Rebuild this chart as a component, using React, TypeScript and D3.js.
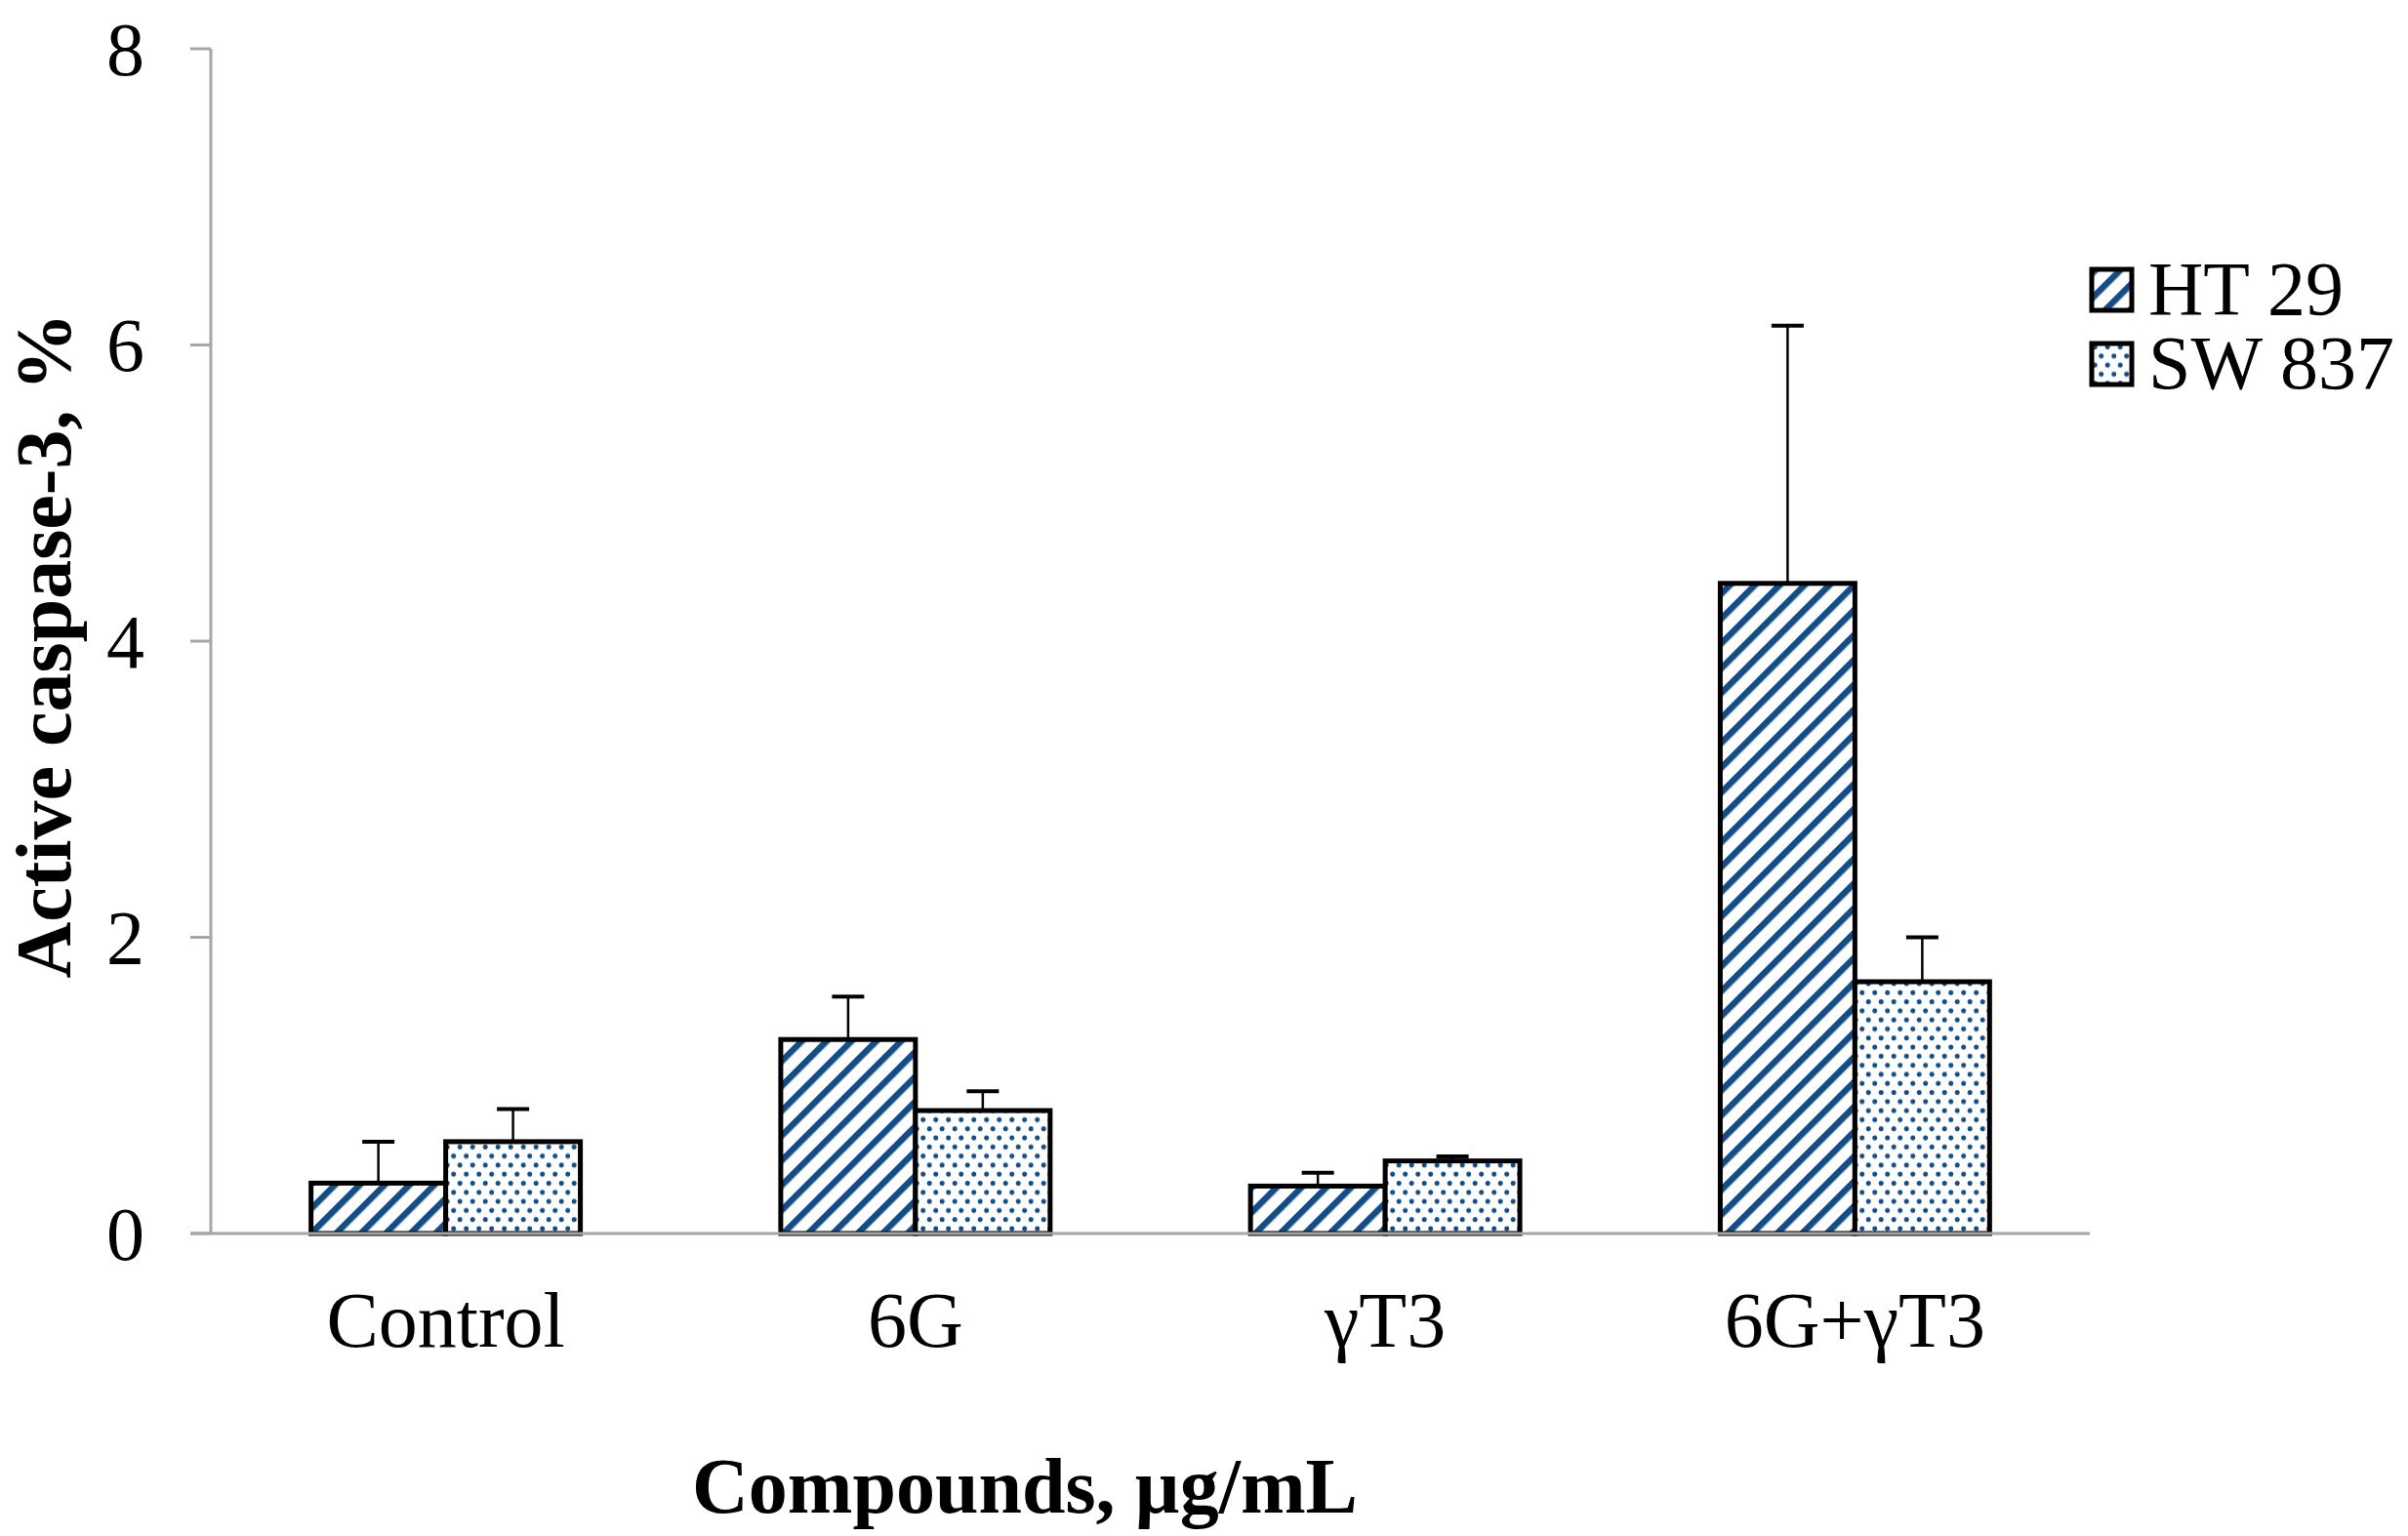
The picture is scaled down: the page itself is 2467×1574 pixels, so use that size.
import React from "react";
import * as d3 from "d3";

const categories = ["Control", "6G", "γT3", "6G+γT3"];
const seriesNames = ["HT 29", "SW 837"];
const ht29Values = [0.34, 1.31, 0.32, 4.39];
const ht29Errors = [0.28, 0.29, 0.09, 1.74];
const sw837Values = [0.62, 0.83, 0.49, 1.7];
const sw837Errors = [0.22, 0.13, 0.03, 0.3];
const yTicks = [0, 2, 4, 6, 8];

const W = 2467;
const H = 1574;
const FONT = "'Liberation Serif', 'Times New Roman', serif";
const BLUE = "#124d88";
const AXIS = "#a6a6a6";

export default function App() {
  const x = d3.scaleBand<string>().domain(categories).range([216, 2141]);
  const inner = d3
    .scaleBand<string>()
    .domain(seriesNames)
    .range([0, x.bandwidth()])
    .paddingInner(0)
    .paddingOuter(0.744);
  const y = d3.scaleLinear().domain([0, 8]).range([1264, 50]);

  const series = [
    { name: seriesNames[0], values: ht29Values, errors: ht29Errors, fill: "url(#hatch)" },
    { name: seriesNames[1], values: sw837Values, errors: sw837Errors, fill: "url(#dots)" },
  ];

  const capW = 33;
  const P = 18;

  return (
    <svg
      width={W}
      height={H}
      viewBox={`0 0 ${W} ${H}`}
      style={{ position: "absolute", left: 0, top: 0, background: "#fff" }}
    >
      <defs>
        <pattern
          id="hatch"
          patternUnits="userSpaceOnUse"
          width={P}
          height={P}
          patternTransform="rotate(45)"
        >
          <rect x={0} y={0} width={P} height={P} fill="#fff" />
          <rect x={0} y={0} width={6.5} height={P} fill={BLUE} />
        </pattern>
        <pattern id="dots" patternUnits="userSpaceOnUse" width={13} height={18.6}>
          <rect x={0} y={0} width={13} height={18.6} fill="#fff" />
          <circle cx={3.2} cy={3.5} r={2.5} fill={BLUE} />
          <circle cx={9.7} cy={12.8} r={2.5} fill={BLUE} />
        </pattern>
      </defs>
      <rect x={0} y={0} width={W} height={H} fill="#fff" />

      {/* y axis */}
      <line x1={216} x2={216} y1={y(8)} y2={y(0)} stroke={AXIS} strokeWidth={3} />
      {yTicks.map((t) => (
        <g key={t}>
          <line x1={195} x2={216} y1={y(t)} y2={y(t)} stroke={AXIS} strokeWidth={3} />
          <text
            x={148}
            y={y(t)}
            textAnchor="end"
            dominantBaseline="central"
            fontFamily={FONT}
            fontSize={78}
            fill="#000"
          >
            {t}
          </text>
        </g>
      ))}

      {/* bars */}
      {series.map((s) =>
        categories.map((c, i) => {
          const bx = (x(c) as number) + (inner(s.name) as number);
          const bw = inner.bandwidth();
          const top = y(s.values[i]);
          const errTop = y(s.values[i] + s.errors[i]);
          const cx = bx + bw / 2;
          return (
            <g key={s.name + c}>
              <line x1={cx} x2={cx} y1={top} y2={errTop} stroke="#000" strokeWidth={2.5} />
              <line
                x1={cx - capW / 2}
                x2={cx + capW / 2}
                y1={errTop}
                y2={errTop}
                stroke="#000"
                strokeWidth={4}
              />
              <rect
                x={bx}
                y={top}
                width={bw}
                height={y(0) - top}
                fill={s.fill}
                stroke="#000"
                strokeWidth={5}
              />
            </g>
          );
        })
      )}

      {/* x axis baseline */}
      <line x1={195} x2={2141} y1={y(0)} y2={y(0)} stroke={AXIS} strokeWidth={3} />

      {/* category labels */}
      {categories.map((c) => (
        <text
          key={c}
          x={(x(c) as number) + x.bandwidth() / 2}
          y={1380}
          textAnchor="middle"
          fontFamily={FONT}
          fontSize={80}
          fill="#000"
        >
          {c}
        </text>
      ))}

      {/* axis titles */}
      <text
        x={1050}
        y={1550}
        textAnchor="middle"
        fontFamily={FONT}
        fontSize={80}
        fontWeight="bold"
        fill="#000"
      >
        Compounds, µg/mL
      </text>
      <text
        transform={`translate(72, ${y(3.97)}) rotate(-90)`}
        textAnchor="middle"
        fontFamily={FONT}
        fontSize={80}
        fontWeight="bold"
        fill="#000"
      >
        Active caspase-3, %
      </text>

      {/* legend */}
      {series.map((s, i) => (
        <g key={s.name} transform={`translate(2143, ${276 + i * 76})`}>
          <rect x={0} y={0} width={41} height={42} fill={s.fill} stroke="#000" strokeWidth={5} />
          <text x={58} y={46} fontFamily={FONT} fontSize={78} fill="#000">
            {s.name}
          </text>
        </g>
      ))}
    </svg>
  );
}
